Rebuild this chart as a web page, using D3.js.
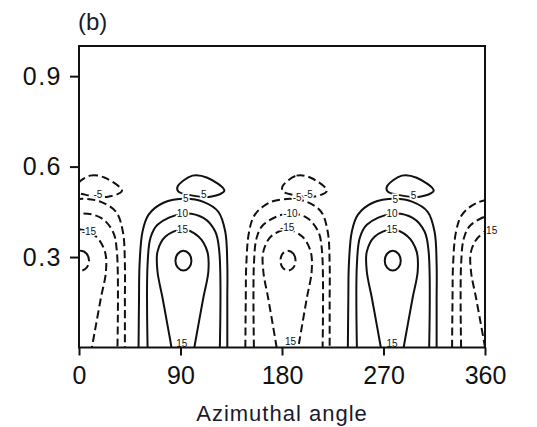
<!DOCTYPE html>
<html>
<head>
<meta charset="utf-8">
<script src="https://cdn.jsdelivr.net/npm/d3@7"></script>
<style>
  body { margin: 0; background: #fff; }
  svg { display: block; font-family: "Liberation Sans", Arial, sans-serif; }
</style>
</head>
<body>
<div class="canvas"></div>
<script>
// axis ticks
const angleTicks = [0, 90, 180, 270, 360];
const radiusTicks = [0.3, 0.6, 0.9];

// one cell per row of the field: centre angle (deg), sign and width
const cellCenters = [1.8, 92.6, 185.3, 278.2, 370.6];
const cellSigns = [-1, 1, -1, 1, -1];
const cellWidths = [1, 1, 0.95, 1, 1];

const level5 = [[-39.8, 0], [-39.4, 0.159], [-38.9, 0.275], [-36.3, 0.384], [-31.0, 0.440],
  [-17.7, 0.480], [1.8, 0.493], [17.7, 0.483], [31.0, 0.450], [37.1, 0.384],
  [38.9, 0.275], [38.9, 0.159], [38.9, 0]];
const level10 = [[-31.8, 0], [-31.8, 0.275], [-29.2, 0.364], [-23.0, 0.407], [-0.9, 0.444],
  [17.7, 0.430], [28.3, 0.384], [31.8, 0.318], [32.3, 0]];
const level15 = [[-10.6, 0], [-11.5, 0.020], [-14.2, 0.076], [-18.6, 0.166], [-23.0, 0.252],
  [-23.0, 0.318], [-15.9, 0.368], [-0.9, 0.391], [13.3, 0.368], [21.2, 0.318],
  [22.1, 0.252], [17.7, 0.166], [13.3, 0.076], [10.6, 0.020], [9.7, 0]];
const level20 = [[0, 0.321], [5, 0.311], [7.1, 0.288], [5, 0.265], [0, 0.255],
  [-5, 0.265], [-7.1, 0.288], [-5, 0.311]];
const cap5 = [[-5.3, 0.533], [8.0, 0.570], [21.2, 0.563], [36.3, 0.520], [23.9, 0.500],
  [3.5, 0.507], [-4.4, 0.517]];

// contour labels: [angle, radius, text]
const labels = [
  [94.6, 0.493, "5"], [91.7, 0.443, "10"], [91.7, 0.391, "15"], [110.6, 0.507, "5"], [91.1, 0.012, "15"],
  [280.4, 0.492, "5"], [277.5, 0.443, "10"], [277.5, 0.393, "15"], [296.6, 0.504, "5"], [277.5, 0.012, "15"],
  [193.4, 0.496, "-5"], [187.5, 0.444, "-10"], [184.6, 0.397, "-15"], [203.4, 0.507, "-5"], [187.5, 0.02, "15"],
  [8.8, 0.384, "-15"], [16.8, 0.507, "-5"],
  [364.4, 0.387, "-15"]
];

const width = 537, height = 427;
const plotLeft = 79, plotRight = 485, plotTop = 46, plotBottom = 347.5;

const x = d3.scaleLinear().domain([0, 360]).range([plotLeft, plotRight]);
const y = d3.scaleLinear().domain([0, 1]).range([plotBottom, plotTop]);

const svg = d3.select('.canvas')
  .append('svg')
  .attr('width', width)
  .attr('height', height);

svg.append('defs').append('clipPath')
  .attr('id', 'plot')
  .append('rect')
  .attr('x', plotLeft)
  .attr('y', plotTop)
  .attr('width', plotRight - plotLeft)
  .attr('height', plotBottom - plotTop);

const contours = svg.append('g').attr('clip-path', 'url(#plot)');

cellCenters.forEach((c, i) => {
  const w = cellWidths[i];
  const open = d3.line()
    .x(d => x(c + d[0] * w))
    .y(d => y(d[1]))
    .curve(d3.curveCatmullRom.alpha(0.5));
  const closed = d3.line()
    .x(d => x(c + d[0] * w))
    .y(d => y(d[1]))
    .curve(d3.curveCatmullRomClosed.alpha(0.5));

  const shapes = [
    [open, level5], [open, level10], [open, level15], [closed, level20], [closed, cap5]
  ];
  shapes.forEach(([gen, pts]) => {
    contours.append('path')
      .attr('d', gen(pts))
      .attr('fill', 'none')
      .attr('stroke', '#111')
      .attr('stroke-width', 2)
      .attr('stroke-dasharray', cellSigns[i] < 0 ? '8,4' : null);
  });
});

// labels with a white halo breaking the line
svg.append('g')
  .selectAll('text')
  .data(labels)
  .join('text')
  .attr('x', d => x(d[0]))
  .attr('y', d => y(d[1]))
  .attr('dy', '0.35em')
  .attr('text-anchor', 'middle')
  .attr('font-size', 10)
  .attr('fill', '#111')
  .attr('stroke', '#fff')
  .attr('stroke-width', 3)
  .attr('paint-order', 'stroke')
  .text(d => d[2]);

// frame
svg.append('rect')
  .attr('x', plotLeft)
  .attr('y', plotTop)
  .attr('width', plotRight - plotLeft)
  .attr('height', plotBottom - plotTop)
  .attr('fill', 'none')
  .attr('stroke', '#111')
  .attr('stroke-width', 2);

const xAxis = svg.append('g')
  .attr('transform', `translate(0,${plotBottom})`)
  .call(d3.axisBottom(x).tickValues(angleTicks).tickSize(8).tickPadding(11));

const yAxis = svg.append('g')
  .attr('transform', `translate(${plotLeft},0)`)
  .call(d3.axisLeft(y).tickValues(radiusTicks).tickSize(9).tickPadding(8).tickFormat(d3.format('.1f')));

[xAxis, yAxis].forEach(a => {
  a.select('.domain').remove();
  a.selectAll('line').attr('stroke', '#111').attr('stroke-width', 2);
  a.selectAll('text')
    .attr('fill', '#111')
    .attr('font-size', 25)
    .attr('font-family', '"Liberation Sans", Arial, sans-serif');
});
yAxis.selectAll('text').attr('letter-spacing', 1.5);

svg.append('text')
  .attr('x', 78)
  .attr('y', 30)
  .attr('font-size', 24)
  .attr('fill', '#1a1a2a')
  .text('(b)');

svg.append('text')
  .attr('x', (plotLeft + plotRight) / 2)
  .attr('y', 421)
  .attr('text-anchor', 'middle')
  .attr('font-size', 22)
  .attr('letter-spacing', 1)
  .attr('fill', '#1a1a2a')
  .text('Azimuthal angle');
</script>
</body>
</html>
